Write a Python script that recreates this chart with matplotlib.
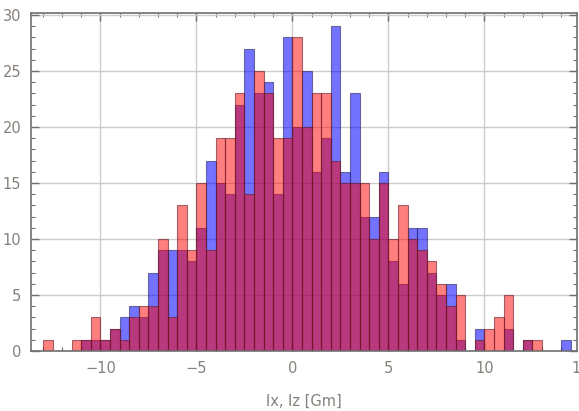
import numpy as np
import matplotlib
matplotlib.use("Agg")
import matplotlib.pyplot as plt
from matplotlib.ticker import MultipleLocator

# histogram counts, bins of width 0.5 starting at -13
bin_start = -13.0
bin_width = 0.5
counts_ix = [0, 0, 0, 0, 1, 1, 1, 2, 3, 4,
             3, 7, 9, 9, 9, 8, 11, 17, 15, 14,
             22, 27, 23, 24, 14, 28, 20, 25, 16, 19,
             29, 16, 23, 12, 12, 16, 8, 6, 11, 11,
             7, 5, 6, 1, 0, 2, 0, 0, 2, 0,
             1, 0, 0, 0, 1, 0]
counts_iz = [1, 0, 0, 1, 1, 3, 1, 2, 1, 3,
             4, 4, 10, 3, 13, 9, 15, 9, 19, 19,
             23, 14, 25, 23, 19, 19, 28, 20, 23, 23,
             17, 15, 15, 15, 10, 15, 10, 13, 10, 9,
             8, 6, 4, 5, 0, 1, 2, 3, 5, 0,
             1, 1, 0, 0, 0, 0]

label_gray = "#85807a"
frame_gray = "#707070"

fig = plt.figure(figsize=(5.79, 4.11), dpi=100)
ax = fig.add_axes([31 / 579, 60 / 411, 546 / 579, 338 / 411])

edges = bin_start + bin_width * np.arange(len(counts_ix))


def draw_hist(counts, face, edge):
    c = np.array(counts)
    keep = c > 0
    ax.bar(edges[keep], c[keep], width=bin_width, align="edge",
           facecolor=face, edgecolor=edge, linewidth=0.8, zorder=2)


draw_hist(counts_ix, (0.0, 0.0, 1.0, 0.55), (0.15, 0.15, 0.4, 0.6))
draw_hist(counts_iz, (1.0, 0.0, 0.0, 0.5), (0.4, 0.1, 0.15, 0.6))

ax.set_xlim(-13.62, 14.82)
ax.set_ylim(0, 30.18)

ax.xaxis.set_major_locator(MultipleLocator(5))
ax.xaxis.set_minor_locator(MultipleLocator(1))
ax.yaxis.set_major_locator(MultipleLocator(5))
ax.yaxis.set_minor_locator(MultipleLocator(1))

ax.grid(True, which="major", color="#cccccc", linewidth=1.0, zorder=0)
ax.set_axisbelow(True)

ax.tick_params(which="both", direction="in", top=True, right=True,
               color=frame_gray, labelcolor=label_gray, labelsize=10.5)
ax.tick_params(which="major", length=6, width=1)
ax.tick_params(which="minor", length=3, width=0.8)
ax.tick_params(axis="y", pad=7)
ax.tick_params(axis="x", pad=7)

for s in ax.spines.values():
    s.set_color(frame_gray)
    s.set_linewidth(1.2)

ax.set_xticks([-10, -5, 0, 5, 10])
ax.set_xticklabels(["\u221210", "\u22125", "0", "5", "10"])
# the 15 label sits just past the right frame edge, same offset as tick labels
ax.annotate("15", xy=(15, 0), xycoords=ax.get_xaxis_transform(),
            xytext=(0, -7), textcoords="offset points", ha="center",
            va="top", color=label_gray, fontsize=10.5, annotation_clip=False)

ax.set_xlabel("Ix, Iz [Gm]", color=label_gray, fontsize=10.5, labelpad=13)

fig.savefig("out.png", dpi=100)
